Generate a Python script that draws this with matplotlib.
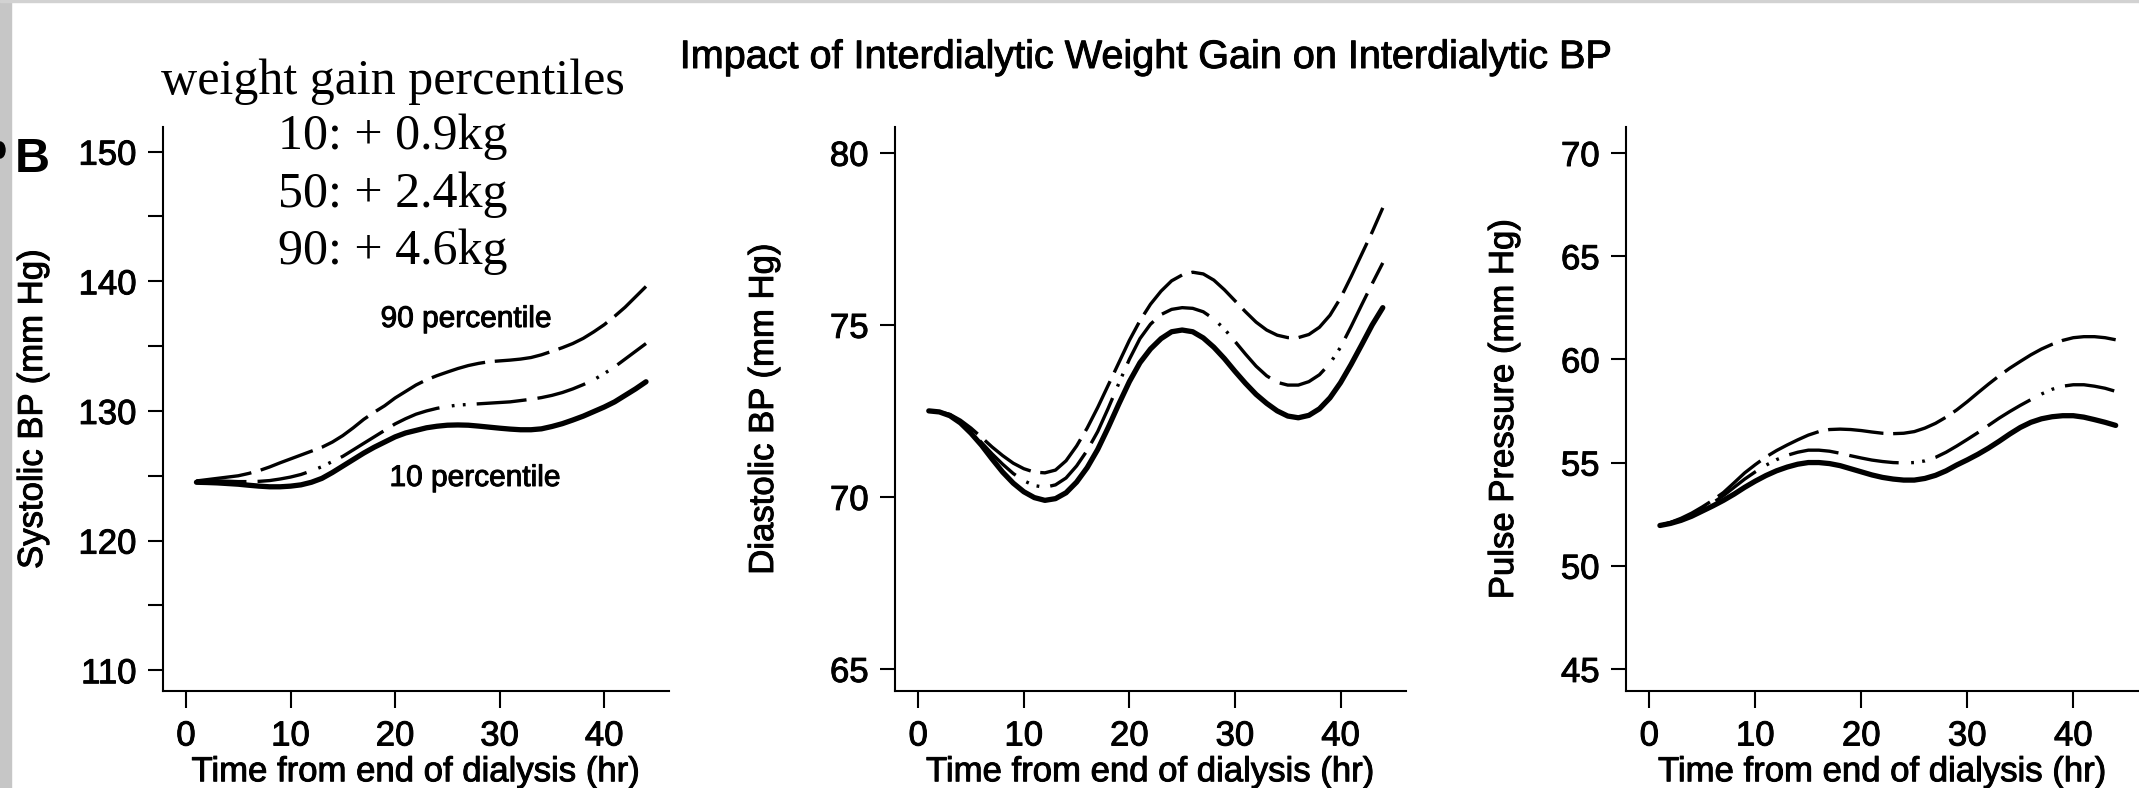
import matplotlib
matplotlib.use("Agg")
import matplotlib.pyplot as plt
import matplotlib.patheffects as pe
from matplotlib.patches import Rectangle, Ellipse
from matplotlib.ticker import MultipleLocator

plt.rcParams["font.family"] = ["Liberation Sans", "DejaVu Sans"]
plt.rcParams["lines.scale_dashes"] = False

# ── Data (hours after dialysis, mm Hg) ──────────────────────────────────────
hours = list(range(1, 45))

sbp_p10 = [124.5, 124.48, 124.45, 124.4, 124.35, 124.27, 124.2, 124.15, 124.15,
           124.2, 124.3, 124.5, 124.8, 125.25, 125.75, 126.25, 126.75, 127.2,
           127.6, 128.0, 128.3, 128.5, 128.7, 128.82, 128.9, 128.92, 128.9,
           128.83, 128.75, 128.67, 128.6, 128.55, 128.55, 128.62, 128.8, 129.02,
           129.3, 129.6, 129.95, 130.3, 130.7, 131.2, 131.7, 132.25]
sbp_p50 = [124.6, 124.6, 124.6, 124.58, 124.55, 124.55, 124.57, 124.63, 124.75,
           124.9, 125.1, 125.38, 125.7, 126.1, 126.5, 127.0, 127.5, 128.0, 128.5,
           129.0, 129.4, 129.75, 130.0, 130.2, 130.35, 130.45, 130.5, 130.55,
           130.6, 130.65, 130.7, 130.8, 130.9, 131.03, 131.2, 131.42, 131.7,
           132.03, 132.4, 132.88, 133.4, 134.0, 134.6, 135.2]
sbp_p90 = [124.6, 124.7, 124.8, 124.9, 125.0, 125.18, 125.4, 125.68, 126.0,
           126.3, 126.6, 126.9, 127.2, 127.6, 128.1, 128.7, 129.35, 129.9, 130.4,
           131.0, 131.5, 132.0, 132.4, 132.72, 133.0, 133.27, 133.5, 133.67,
           133.8, 133.86, 133.92, 134.0, 134.12, 134.33, 134.6, 134.88, 135.2,
           135.6, 136.1, 136.65, 137.3, 138.0, 138.8, 139.6]

dbp_p10 = [72.5, 72.47, 72.36, 72.15, 71.85, 71.5, 71.1, 70.72, 70.4, 70.15,
           69.98, 69.9, 69.95, 70.12, 70.43, 70.85, 71.38, 72.02, 72.7, 73.35,
           73.9, 74.3, 74.6, 74.8, 74.85, 74.8, 74.62, 74.35, 74.02, 73.65, 73.3,
           72.98, 72.72, 72.5, 72.35, 72.3, 72.37, 72.56, 72.88, 73.32, 73.85,
           74.42, 75.0, 75.5]
dbp_p50 = [72.5, 72.47, 72.38, 72.18, 71.9, 71.58, 71.25, 70.95, 70.68, 70.47,
           70.33, 70.28, 70.35, 70.55, 70.9, 71.35, 71.9, 72.58, 73.3, 74.0,
           74.6, 75.02, 75.3, 75.45, 75.5, 75.48, 75.38, 75.17, 74.88, 74.52,
           74.15, 73.8, 73.52, 73.33, 73.25, 73.25, 73.35, 73.55, 73.88, 74.35,
           74.95, 75.58, 76.2, 76.8]
dbp_p90 = [72.5, 72.47, 72.4, 72.23, 72.0, 71.73, 71.45, 71.2, 70.98, 70.82,
           70.72, 70.7, 70.78, 71.05, 71.48, 72.0, 72.6, 73.25, 73.9, 74.55,
           75.12, 75.6, 75.98, 76.28, 76.45, 76.53, 76.48, 76.3, 76.02, 75.7,
           75.38, 75.08, 74.85, 74.7, 74.63, 74.63, 74.72, 74.93, 75.28, 75.78,
           76.4, 77.05, 77.7, 78.4]

pp_p10 = [51.95, 52.05, 52.2, 52.4, 52.65, 52.9, 53.17, 53.47, 53.8, 54.1,
          54.37, 54.6, 54.78, 54.92, 55.0, 55.0, 54.95, 54.85, 54.7, 54.55,
          54.4, 54.28, 54.2, 54.15, 54.15, 54.23, 54.38, 54.6, 54.88, 55.13,
          55.4, 55.7, 56.03, 56.38, 56.7, 56.95, 57.12, 57.22, 57.27, 57.27,
          57.2, 57.08, 56.95, 56.8]
pp_p50 = [51.95, 52.08, 52.25, 52.48, 52.75, 53.05, 53.4, 53.8, 54.2, 54.55,
          54.87, 55.14, 55.35, 55.5, 55.6, 55.6, 55.55, 55.45, 55.33, 55.22,
          55.12, 55.05, 55.0, 54.98, 55.0, 55.08, 55.25, 55.5, 55.8, 56.12,
          56.45, 56.8, 57.15, 57.47, 57.77, 58.05, 58.32, 58.55, 58.7, 58.77,
          58.77, 58.7, 58.6, 58.45]
pp_p90 = [51.95, 52.1, 52.3, 52.55, 52.85, 53.18, 53.55, 54.02, 54.5, 54.9,
          55.27, 55.58, 55.85, 56.1, 56.33, 56.5, 56.6, 56.62, 56.6, 56.55,
          56.48, 56.42, 56.4, 56.42, 56.5, 56.67, 56.9, 57.2, 57.55, 57.95,
          58.38, 58.8, 59.2, 59.57, 59.9, 60.22, 60.5, 60.73, 60.92, 61.05,
          61.1, 61.1, 61.05, 60.95]

ylabels = ["Systolic BP (mm Hg)", "Diastolic BP (mm Hg)", "Pulse Pressure (mm Hg)"]
yticks = [[110, 120, 130, 140, 150], [65, 70, 75, 80], [45, 50, 55, 60, 65, 70]]
ylims = [(108.4, 151.9), (64.36, 80.75), (43.93, 71.26)]
xticks = [0, 10, 20, 30, 40]

gain_lines = ["weight gain percentiles", "10: + 0.9kg", "50: + 2.4kg", "90: + 4.6kg"]

# ── Layout ──────────────────────────────────────────────────────────────────
W, H = 2139, 788
fig = plt.figure(figsize=(W / 100, H / 100), dpi=100)

panels = [(163, 506), (895, 511), (1626, 513)]
ax_top, ax_bot = 127, 691
label_x = [49, 780, 1520]

series = [(sbp_p10, sbp_p50, sbp_p90),
          (dbp_p10, dbp_p50, dbp_p90),
          (pp_p10, pp_p50, pp_p90)]

LONG_DASH = (0, (40, 7))
DASH_DOT = (0, (36, 8, 36, 9, 2, 6, 2, 8))
HEAVY = [pe.withStroke(linewidth=0.7, foreground="black")]

axes = []
for i, ((left, width), (p10, p50, p90)) in enumerate(zip(panels, series)):
    ax = fig.add_axes([left / W, 1 - ax_bot / H, width / W, (ax_bot - ax_top) / H])
    ax.plot(hours, p90, color="black", lw=2.4, ls=LONG_DASH)
    ax.plot(hours, p50, color="black", lw=2.4, ls=DASH_DOT)
    ax.plot(hours, p10, color="black", lw=3.8, solid_capstyle="round",
            solid_joinstyle="round")

    ax.set_xlim(-2.2, 46.2)
    ax.set_ylim(*ylims[i])
    ax.set_xticks(xticks)
    ax.set_yticks(yticks[i])
    if i == 0:
        ax.yaxis.set_minor_locator(MultipleLocator(5))
    ax.tick_params(which="both", direction="out", width=1.5, labelsize=25)
    ax.tick_params(axis="y", which="both", length=11, pad=8)
    ax.tick_params(axis="x", length=12, pad=8.5)
    ax.spines["top"].set_visible(False)
    ax.spines["right"].set_visible(False)
    for s in ("left", "bottom"):
        ax.spines[s].set_linewidth(1.5)
    ax.set_xlabel("Time from end of dialysis (hr)", fontsize=25, labelpad=2,
                  path_effects=HEAVY)
    ax.set_ylabel(ylabels[i], fontsize=25, path_effects=HEAVY)
    ax.yaxis.set_label_coords((label_x[i] - left) / width, 0.5)
    for lab in ax.get_xticklabels() + ax.get_yticklabels():
        lab.set_path_effects(HEAVY)
    axes.append(ax)

fig.text(466 / W, 1 - 319 / H, "90 percentile", fontsize=21.5, ha="center",
         va="center", path_effects=HEAVY)
fig.text(475 / W, 1 - 478 / H, "10 percentile", fontsize=21.5, ha="center",
         va="center", path_effects=HEAVY)

# ── Figure-level text ───────────────────────────────────────────────────────
fig.text(1146 / W, 1 - 57 / H,
         "Impact of Interdialytic Weight Gain on Interdialytic BP",
         fontsize=28.5, ha="center", va="center", path_effects=HEAVY)

baselines = [94, 149, 207, 264]
for txt, yb in zip(gain_lines, baselines):
    fig.text(393 / W, 1 - yb / H, txt, fontsize=36, ha="center",
             va="baseline", family="Liberation Serif")

fig.text(15 / W, 1 - 172 / H, "B", fontsize=35, fontweight="bold",
         va="baseline", ha="left")

# screenshot edges
fig.patches.append(Rectangle((0, 0), 11 / W, 1, transform=fig.transFigure,
                             color="#c6c6c6", zorder=0))
fig.patches.append(Rectangle((0, 1 - 2 / H), 1, 2 / H, transform=fig.transFigure,
                             color="#d2d2d2", zorder=0))
fig.patches.append(Ellipse((0, 1 - 150 / H), 10 / W, 16 / H,
                           transform=fig.transFigure, color="black", zorder=1))

fig.savefig("out.png", dpi=100)
